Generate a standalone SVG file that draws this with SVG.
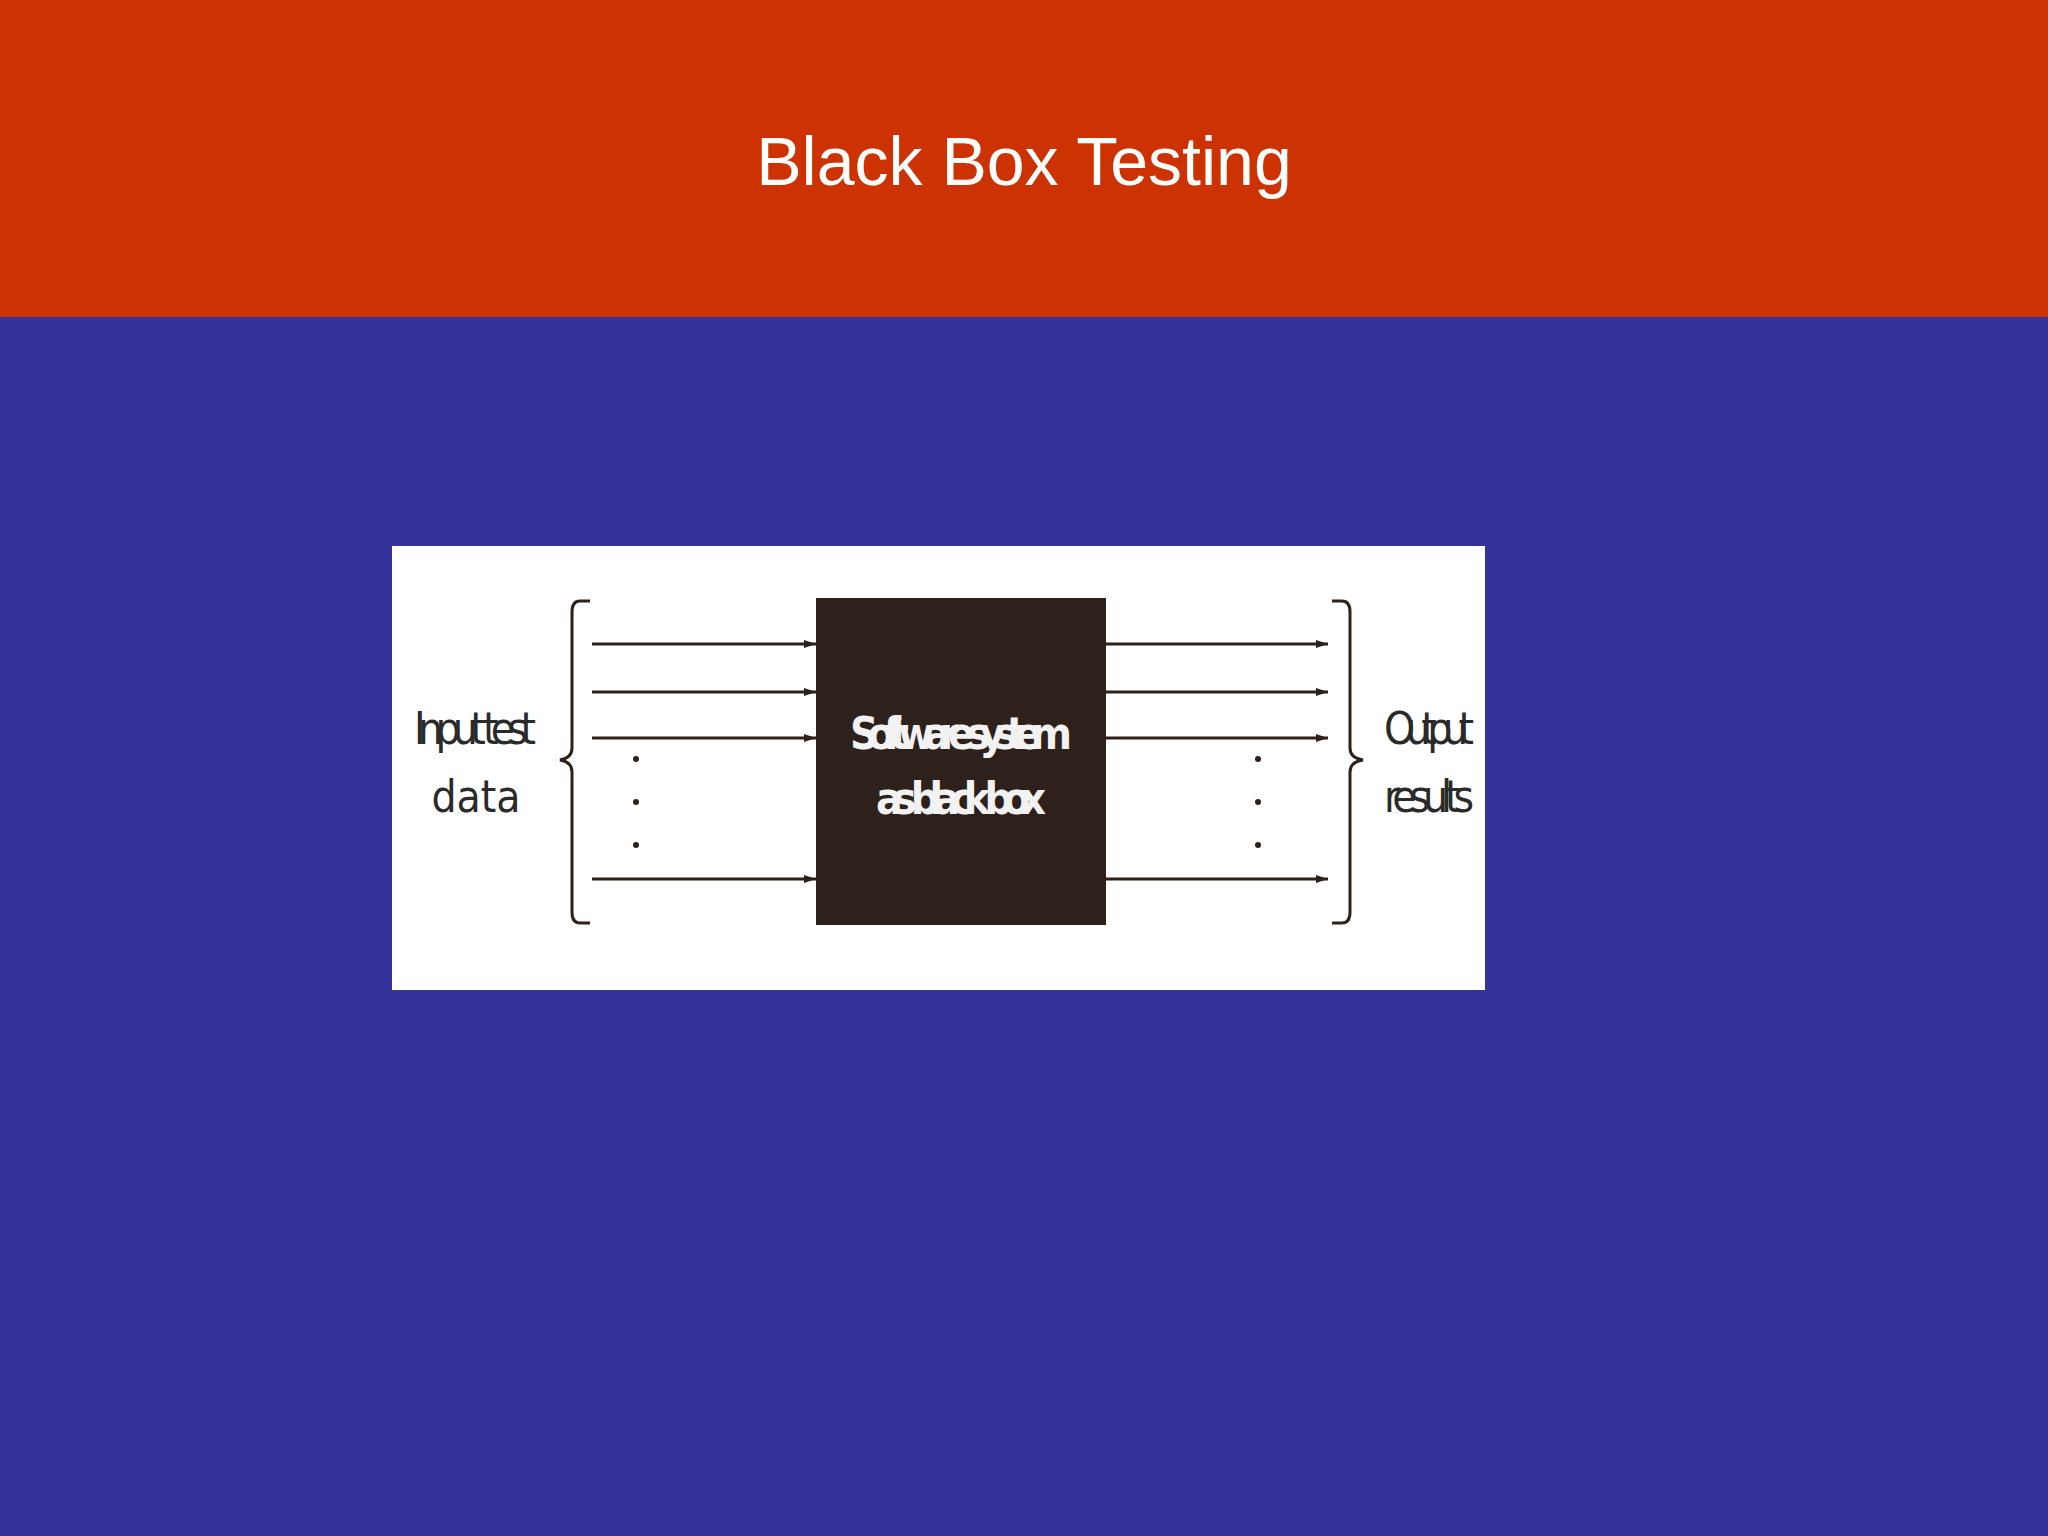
<svg xmlns="http://www.w3.org/2000/svg" width="2048" height="1536" viewBox="0 0 2048 1536">
<defs>
<style>
.lbl{font-family:"DejaVu Sans Condensed","Liberation Sans",sans-serif;font-size:44px;fill:#2a2a2a;text-anchor:middle}
.box{font-family:"DejaVu Sans Condensed","Liberation Sans",sans-serif;font-size:44px;font-weight:bold;fill:#f2f2f2;text-anchor:middle}
.ar{stroke:#2e211b;stroke-width:3;fill:none;marker-end:url(#ah)}
.br{stroke:#2e211b;stroke-width:3;fill:none}
</style>
<marker id="ah" markerWidth="12" markerHeight="8" refX="12" refY="4" orient="auto" markerUnits="userSpaceOnUse"><path d="M0,0 L12,4 L0,8 z" fill="#2e211b"/></marker>
</defs>
<rect width="2048" height="1536" fill="#35339a"/>
<rect width="2048" height="317" fill="#cc3202"/>
<text x="1024" y="185" font-family="Liberation Sans, Arial, sans-serif" font-size="68" fill="#ffffff" text-anchor="middle">Black Box Testing</text>
<rect x="392" y="546" width="1093" height="444" fill="#ffffff"/>
<g id="input"><path class="br" d="M590,601 H580 Q572,601 572,612 V748 Q572,758 560,760 Q572,762 572,772 V912 Q572,923 580,923 H590"/>
<text class="lbl" x="475" y="744" textLength="122">Input test</text><text class="lbl" x="476" y="812">data</text></g>
<g id="blackbox"><rect x="816" y="598" width="290" height="327" fill="#2e211b"/>
<text class="box" x="961" y="749" textLength="222">Software system</text><text class="box" x="961" y="814" textLength="170">as black box</text></g>
<g id="output"><path class="br" d="M1332,601 H1342 Q1350,601 1350,612 V748 Q1350,758 1363,760 Q1350,762 1350,772 V912 Q1350,923 1342,923 H1332"/>
<text class="lbl" x="1429" y="744" textLength="90">Output</text><text class="lbl" x="1429" y="812" textLength="90">results</text></g>
<g id="connectors">
<line class="ar" x1="592" y1="644" x2="816" y2="644"/><line class="ar" x1="592" y1="692" x2="816" y2="692"/><line class="ar" x1="592" y1="738" x2="816" y2="738"/><line class="ar" x1="592" y1="879" x2="816" y2="879"/>
<line class="ar" x1="1106" y1="644" x2="1328" y2="644"/><line class="ar" x1="1106" y1="692" x2="1328" y2="692"/><line class="ar" x1="1106" y1="738" x2="1328" y2="738"/><line class="ar" x1="1106" y1="879" x2="1328" y2="879"/>
<g fill="#2e211b"><circle cx="636" cy="759" r="3"/><circle cx="636" cy="802" r="3"/><circle cx="636" cy="845" r="3"/><circle cx="1258" cy="759" r="3"/><circle cx="1258" cy="802" r="3"/><circle cx="1258" cy="845" r="3"/></g>
</g>
</svg>
